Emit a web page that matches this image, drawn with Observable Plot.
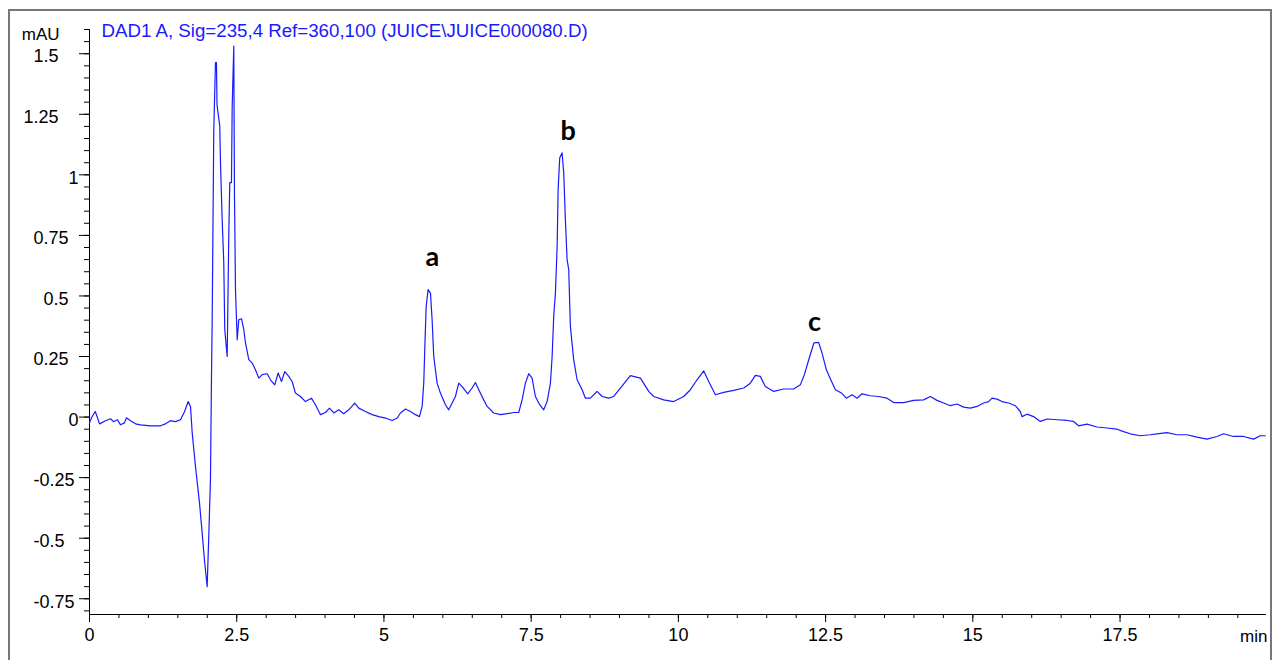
<!DOCTYPE html>
<html><head><meta charset="utf-8">
<script src="https://cdn.jsdelivr.net/npm/d3@7"></script>
<script src="https://cdn.jsdelivr.net/npm/@observablehq/plot@0.6"></script>
<style>
html,body{margin:0;padding:0;background:#fff;}
#wrap{position:relative;width:1274px;height:660px;overflow:hidden;}
#border{position:absolute;left:8px;top:9px;width:1264px;height:720px;border:2px solid #777;box-sizing:border-box;}
#chart{position:absolute;left:0;top:0;}
</style></head><body>
<div id="wrap"><div id="border"></div><div id="chart"></div></div>
<script>
// Retention time (min)
const time = [0.000,0.034,0.097,0.136,0.170,0.272,0.357,0.407,0.475,0.526,0.594,0.628,0.696,0.781,0.866,1.036,1.205,1.290,1.375,1.460,1.545,1.613,1.676,1.715,1.744,1.800,1.868,1.913,1.952,1.981,1.998,2.025,2.054,2.071,2.083,2.110,2.139,2.156,2.165,2.212,2.224,2.253,2.280,2.297,2.338,2.365,2.382,2.411,2.423,2.450,2.462,2.479,2.508,2.535,2.581,2.620,2.649,2.705,2.762,2.818,2.874,2.932,3.017,3.073,3.146,3.204,3.260,3.316,3.384,3.441,3.497,3.582,3.667,3.769,3.837,3.922,4.007,4.075,4.148,4.233,4.317,4.402,4.504,4.572,4.686,4.800,4.912,5.025,5.139,5.224,5.280,5.365,5.450,5.535,5.603,5.649,5.676,5.693,5.717,5.750,5.790,5.818,5.846,5.903,5.959,6.044,6.100,6.158,6.214,6.270,6.328,6.423,6.497,6.553,6.610,6.694,6.752,6.864,6.978,7.092,7.204,7.289,7.346,7.402,7.459,7.516,7.572,7.645,7.713,7.771,7.827,7.856,7.883,7.912,7.941,7.958,7.985,8.025,8.053,8.081,8.110,8.138,8.166,8.222,8.280,8.365,8.421,8.506,8.620,8.705,8.817,8.902,9.015,9.185,9.355,9.496,9.581,9.751,9.920,10.090,10.204,10.317,10.430,10.515,10.628,10.769,10.939,11.109,11.222,11.307,11.392,11.477,11.618,11.788,11.958,12.071,12.139,12.224,12.301,12.382,12.440,12.513,12.588,12.666,12.776,12.852,12.949,13.034,13.119,13.260,13.401,13.543,13.655,13.825,13.995,14.165,14.278,14.392,14.504,14.618,14.732,14.844,14.958,15.071,15.183,15.268,15.326,15.411,15.496,15.608,15.722,15.806,15.835,15.920,16.032,16.146,16.260,16.430,16.599,16.711,16.796,16.939,17.109,17.278,17.448,17.560,17.674,17.844,18.014,18.127,18.297,18.467,18.637,18.806,18.976,19.146,19.258,19.428,19.598,19.768,19.881,19.966];
// Absorbance (mAU)
const absorbance = [-0.024,-0.003,0.023,-0.003,-0.028,-0.015,-0.007,-0.019,-0.011,-0.032,-0.024,-0.003,-0.015,-0.028,-0.032,-0.036,-0.036,-0.028,-0.015,-0.019,-0.011,0.022,0.064,0.043,-0.065,-0.205,-0.354,-0.478,-0.590,-0.659,-0.700,-0.493,-0.259,0.154,0.390,1.175,1.463,1.463,1.290,1.201,1.051,0.815,0.638,0.361,0.250,0.746,0.968,0.968,1.283,1.531,0.912,0.526,0.319,0.402,0.406,0.361,0.306,0.237,0.223,0.195,0.161,0.175,0.179,0.154,0.133,0.182,0.147,0.188,0.168,0.147,0.099,0.085,0.064,0.078,0.051,0.010,0.019,0.037,0.017,0.030,0.014,0.030,0.058,0.037,0.023,0.010,0.002,-0.004,-0.014,-0.004,0.017,0.033,0.023,0.010,0.002,0.044,0.140,0.278,0.457,0.526,0.512,0.402,0.250,0.140,0.099,0.051,0.030,0.058,0.085,0.140,0.126,0.096,0.120,0.143,0.113,0.071,0.044,0.017,0.010,0.014,0.019,0.019,0.071,0.140,0.179,0.161,0.085,0.051,0.030,0.064,0.140,0.250,0.416,0.512,0.705,0.939,1.070,1.091,1.008,0.815,0.650,0.609,0.374,0.237,0.154,0.113,0.078,0.078,0.106,0.085,0.078,0.085,0.120,0.171,0.161,0.106,0.085,0.071,0.064,0.085,0.113,0.154,0.191,0.147,0.092,0.102,0.110,0.120,0.140,0.172,0.168,0.126,0.106,0.116,0.116,0.133,0.175,0.245,0.306,0.308,0.264,0.195,0.154,0.113,0.098,0.078,0.092,0.078,0.096,0.088,0.085,0.078,0.060,0.060,0.069,0.071,0.085,0.069,0.058,0.047,0.054,0.041,0.037,0.044,0.058,0.064,0.078,0.074,0.064,0.058,0.047,0.023,0.002,0.012,0.002,-0.018,-0.008,-0.011,-0.014,-0.018,-0.036,-0.029,-0.041,-0.045,-0.050,-0.060,-0.069,-0.077,-0.073,-0.069,-0.064,-0.073,-0.073,-0.083,-0.091,-0.080,-0.069,-0.080,-0.080,-0.091,-0.077,-0.077];

const yTicks = [-0.75, -0.5, -0.25, 0, 0.25, 0.5, 0.75, 1, 1.25, 1.5];
const xTicks = [0, 2.5, 5, 7.5, 10, 12.5, 15, 17.5];
const peakNames = ["a", "b", "c"];
const peakTime = [5.82, 8.13, 12.31];
const peakLabelY = [0.661, 1.18, 0.393];
const titleText = "DAD1 A, Sig=235,4 Ref=360,100 (JUICE\\JUICE000080.D)";
const yUnit = "mAU";
const xUnit = "min";

// layout: left edge (px) of each y tick label, as drawn in the original
const yLabelLeftPx = new Map([[1.5, 33], [1.25, 23], [1, 68], [0.75, 33], [0.5, 43], [0.25, 33], [0, 68], [-0.25, 33], [-0.5, 33], [-0.75, 33]]);

const data = time.map((t, i) => ({t, v: absorbance[i]}));
const peaks = peakNames.map((name, i) => ({name, t: peakTime[i], y: peakLabelY[i]}));
const yMinor = d3.range(-16, 33).map(i => +(i * 0.05).toFixed(2));
const xMinor = d3.range(0, 40).map(i => i * 0.5);
const blue = "#1a1aff";
const mL = 89;

const yLabelMarks = d3.groups(yTicks, d => yLabelLeftPx.get(d)).map(([left, ticks]) =>
  Plot.text(ticks, {y: d => d, text: d => String(d), frameAnchor: "left", dx: left - mL, dy: 3, textAnchor: "start", fontSize: 18, fill: "#000"})
);

const chart = Plot.plot({
  width: 1274, height: 660,
  marginLeft: mL, marginRight: 9, marginTop: 29, marginBottom: 46,
  style: {fontFamily: "'Liberation Sans', Arial, sans-serif", fontSize: "18px", color: "#000", background: "transparent", overflow: "visible"},
  x: {domain: [0, 19.97]},
  y: {domain: [-0.815, 1.6]},
  marks: [
    Plot.frame({anchor: "left", stroke: "#000"}),
    Plot.frame({anchor: "bottom", stroke: "#000"}),
    Plot.axisY(yMinor, {tickSize: 5, tickFormat: () => "", label: null}),
    Plot.axisY(yTicks, {tickSize: 10, tickFormat: () => "", label: null}),
    ...yLabelMarks,
    Plot.axisX(xMinor, {tickSize: 4, tickFormat: () => "", label: null}),
    Plot.axisX(xTicks, {tickSize: 8, tickPadding: 6, tickFormat: d => String(d), label: null, fontSize: 18}),
    Plot.line(data, {x: "t", y: "v", stroke: blue, strokeWidth: 1.2}),
    Plot.text(peaks, {x: "t", y: "y", text: "name", fontSize: 27, fontWeight: "bold", fontFamily: "Lato", fill: "#000"}),
    Plot.text([titleText], {frameAnchor: "top-left", text: d => d, dx: 12, dy: -5.6, lineAnchor: "top", textAnchor: "start", fill: blue, fontSize: 18.7}),
    Plot.text([yUnit], {frameAnchor: "top-left", text: d => d, dx: -30, dy: -2, lineAnchor: "top", textAnchor: "end", fill: "#000", fontSize: 17}),
    Plot.text([xUnit], {frameAnchor: "bottom-right", text: d => d, dx: 2, dy: 15, lineAnchor: "top", textAnchor: "end", fill: "#000", fontSize: 17})
  ]
});
document.getElementById("chart").appendChild(chart);
</script>
</body></html>
